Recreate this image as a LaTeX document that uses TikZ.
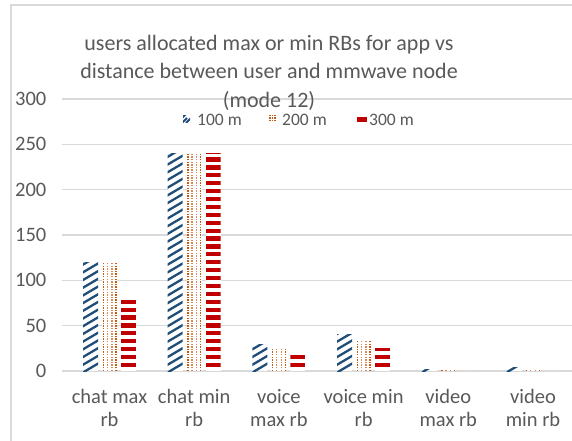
\documentclass[tikz,border=0pt]{standalone}
\usepackage{fontspec}
\setmainfont{Carlito}
\definecolor{txtgray}{HTML}{595959}
\definecolor{gridgray}{HTML}{D9D9D9}
\definecolor{serA}{HTML}{1F4E79}
\definecolor{serB}{HTML}{C55A11}
\definecolor{serC}{HTML}{C00000}

% bar with dashed upward diagonal hatching (100 m)
\newcommand\hatchbar[2]{%
  \pgfmathsetmacro\bartop{371-#2*0.9067}%
  \fill[white] (#1,371) rectangle (#1+15,\bartop);
  \begin{scope}
    \clip (#1,371) rectangle (#1+15,\bartop);
    \foreach \k in {0,...,30}{\draw[serA,line width=2.3pt] (#1-1,373-\k*7.7) -- ++(17,-10);}
  \end{scope}}
% bar with dotted columns (200 m)
\newcommand\dotbar[2]{%
  \pgfmathsetmacro\bartop{371-#2*0.9067}%
  \fill[white] (#1,371) rectangle (#1+15,\bartop);
  \begin{scope}
    \clip (#1,371) rectangle (#1+15,\bartop);
    \foreach \dx/\c in {1.2/serB,5.2/serB!70,9.8/serB!70,13.8/serB}{%
      \draw[\c,line width=1.4pt,dash pattern=on 1.4pt off 1.2pt] (#1+\dx,371) -- (#1+\dx,\bartop-2);}
  \end{scope}}
% bar with horizontal dashes (300 m)
\newcommand\dashbar[2]{%
  \pgfmathsetmacro\bartop{371-#2*0.9067}%
  \fill[white] (#1,371) rectangle (#1+15,\bartop);
  \begin{scope}
    \clip (#1,371) rectangle (#1+15,\bartop);
    \foreach \k in {0,...,30}{\fill[serC] (#1,367-\k*7.9) rectangle ++(15,-4.2);}
  \end{scope}}

\begin{document}
\begin{tikzpicture}[x=1pt,y=-1pt,
  txt/.style={text=txtgray,inner sep=0pt},
  ticklbl/.style={txt,anchor=east,font=\fontsize{20.5}{23}\selectfont},
  catlbl/.style={txt,anchor=north,align=center,font=\fontsize{20.5}{23}\selectfont},
  leglbl/.style={txt,anchor=west,font=\fontsize{17.5}{20}\selectfont},
  grid line/.style={gridgray,line width=1.5pt}]
\useasboundingbox (0,0) rectangle (572,441);
\fill[white] (0,0) rectangle (572,441);

% chart frame
\draw[gridgray,line width=2pt] (10.5,441) -- (10.5,5) -- (572,5);

% gridlines and value labels
\foreach \v in {0,50,...,300}{
  \pgfmathsetmacro\yy{371-\v*0.9067}
  \draw[grid line] (62,\yy) -- (572,\yy);
  \node[ticklbl] (tick\v) at (46.5,\yy) {\v};
}

% bars: 100 m, 200 m, 300 m per category
\foreach \i/\a/\b/\c in {0/120/120/80, 1/240/240/240, 2/29/25/18, 3/40/34/25, 4/2/1/0, 5/4/2/0}{
  \pgfmathsetmacro\cx{109.5+84.7*\i}
  \hatchbar{\cx-26.5}{\a}
  \dotbar{\cx-7.5}{\b}
  \dashbar{\cx+11.5}{\c}
}

% category labels
\foreach \i/\t in {0/{chat max\\rb},1/{chat min\\rb},2/{voice\\max rb},3/{voice min\\rb},4/{video\\max rb},5/{video\\min rb}}{
  \pgfmathsetmacro\cx{109.5+84.7*\i}
  \node[catlbl] (cat\i) at (\cx,389) {\t};
}

% title
\node[txt,align=center,font=\fontsize{22}{28.5}\selectfont] (title) at (269,72.5)
  {users allocated max or min RBs for app vs\\distance between user and mmwave node\\(mode 12)};

% legend
\begin{scope}
  \clip (183,115) rectangle (190,122);
  \draw[serA,line width=2pt] (182,123) -- (187,118) (186,123) -- (192,117) (182,118) -- (186,114);
\end{scope}
\foreach \dx in {270,272.5,275}{\draw[serB,line width=1.2pt,dash pattern=on 1.2pt off 1.2pt] (\dx,115) -- (\dx,122);}
\fill[serC] (357,117) rectangle (367,121.5);
\node[leglbl] (leg1) at (197,119.5) {100 m};
\node[leglbl] (leg2) at (282,119.5) {200 m};
\node[leglbl] (leg3) at (369,119.5) {300 m};
\end{tikzpicture}
\end{document}
